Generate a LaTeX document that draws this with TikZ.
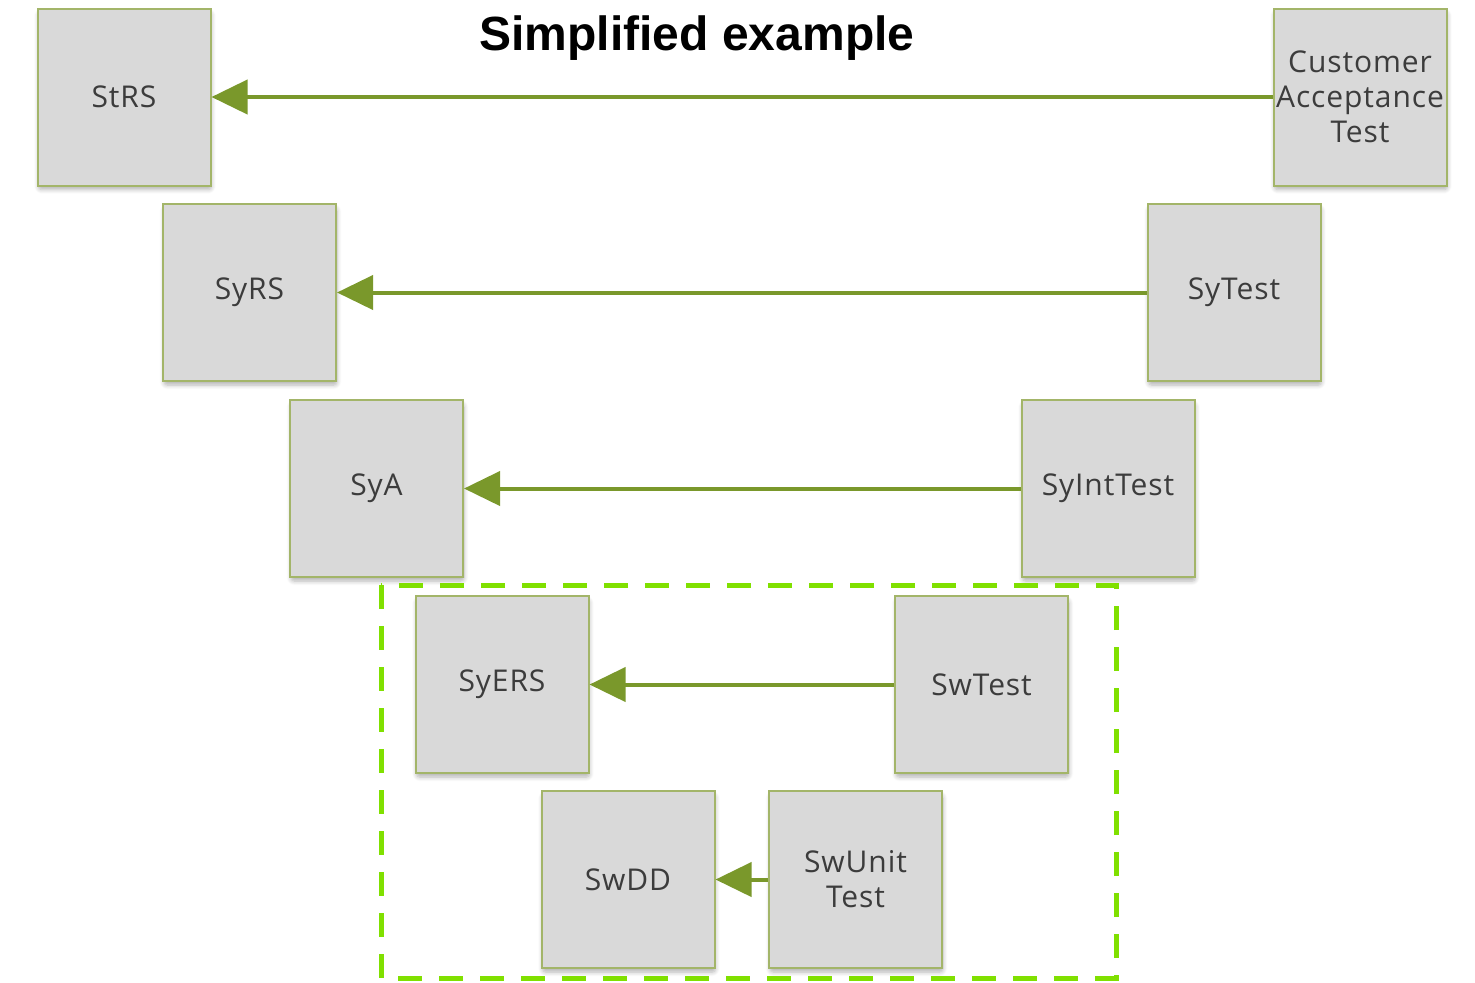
\documentclass[tikz,border=0pt]{standalone}
\usepackage{fontspec}
\setmainfont[LetterSpace=3]{Open Sans}
\newfontfamily\titlefont{Liberation Sans}
\usepackage{tikz}
\usetikzlibrary{arrows.meta,positioning,shadows.blur}
\definecolor{VBoxFill}{HTML}{D9D9D9}
\definecolor{VBoxLine}{HTML}{A3B569}
\definecolor{VArrow}{HTML}{7A982B}
\definecolor{VText}{HTML}{3C3C3C}
\definecolor{VDash}{HTML}{80E000}

\begin{document}
\begin{tikzpicture}[x=0.5pt,y=-0.5pt,>=Stealth,thick,
  vbox/.style={draw=VBoxLine,line width=1pt,fill=VBoxFill,text=VText,
    minimum width=86.5pt,minimum height=88.5pt,inner sep=0pt,align=center,
    font=\fontsize{15}{17.5}\selectfont,
    blur shadow={shadow xshift=0.5pt,shadow yshift=-2pt,shadow blur steps=6,
      shadow blur extra rounding=1.5pt,shadow opacity=30}},
  trace/.style={<-,VArrow,line width=2pt,>={Triangle[length=18pt,width=17pt]}}]
\useasboundingbox (0,0) rectangle (1475,982);
\node[font=\titlefont\bfseries\fontsize{24}{28}\selectfont] (title) at (697,38) {Simplified example};
% left side
\node[vbox] (strs) at (124,97) {StRS};
\node[vbox] (syrs) at (249.5,292.5) {SyRS};
\node[vbox] (sya) at (376.5,488.5) {SyA};
\node[vbox] (syers) at (502,684.5) {SyERS};
\node[vbox] (swdd) at (628,879.5) {SwDD};
% right side
\node[vbox] (cat) at (1360,97) {Customer\\Acceptance\\Test};
\node[vbox] (sytest) at (1234,292.5) {SyTest};
\node[vbox] (syint) at (1108,488.5) {SyIntTest};
\node[vbox] (swtest) at (981.5,684.5) {SwTest};
\node[vbox] (swunit) at (855.5,879.5) {SwUnit\\Test};
% traces
\draw[trace] (strs) -- (cat);
\draw[trace] (syrs) -- (sytest);
\draw[trace] (sya) -- (syint);
\draw[trace] (syers) -- (swtest);
\draw[trace] (swdd) -- (swunit);
% software part
\draw[VDash,line width=2.5pt,dash pattern=on 12pt off 8.5pt] (381,585) rectangle (1116,978);
\end{tikzpicture}
\end{document}
